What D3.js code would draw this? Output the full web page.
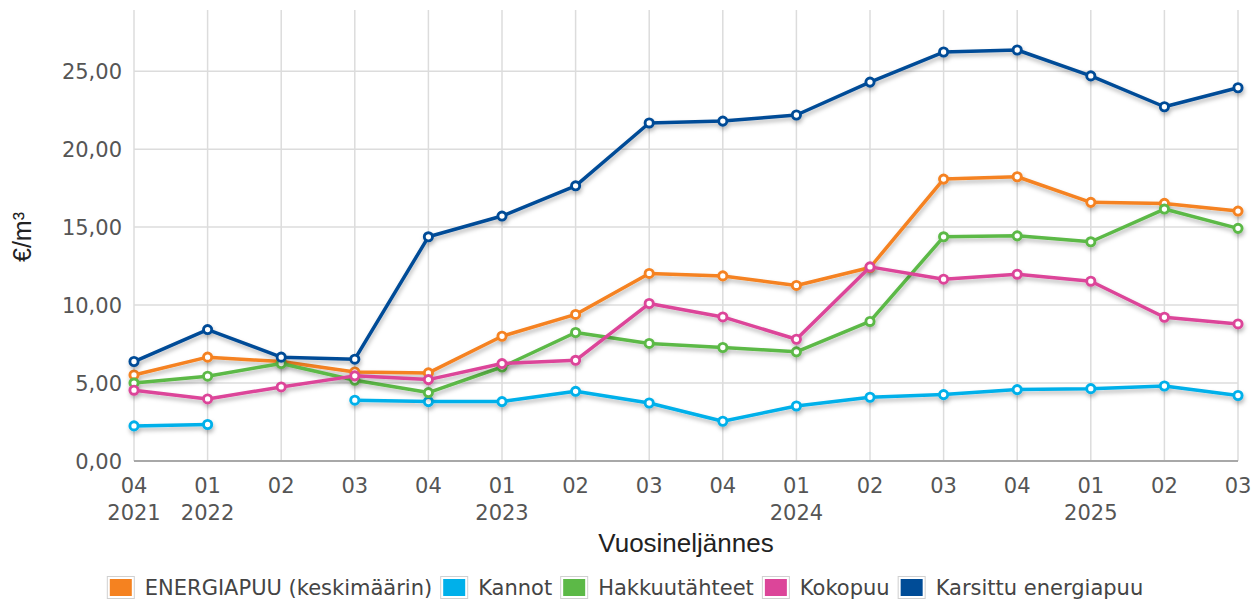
<!DOCTYPE html>
<html><head><meta charset="utf-8">
<script src="https://cdn.jsdelivr.net/npm/d3@7"></script>
<style>
html,body{margin:0;padding:0;background:#fff;}
svg{display:block;}
</style></head>
<body>
<svg id="chart" width="1260" height="600"></svg>
<script>
const quarters = ["04","01","02","03","04","01","02","03","04","01","02","03","04","01","02","03"];
const years    = ["2021","2022","","","","2023","","","","2024","","","","2025","",""];
const categories = quarters.map((q,i)=>i+"");

const seriesNames = ["ENERGIAPUU (keskimäärin)","Kannot","Hakkuutähteet","Kokopuu","Karsittu energiapuu"];
const seriesColors = ["#f58220","#00b0ea","#5cb947","#dc4599","#004c97"];

const energiapuu = [5.52,6.66,6.38,5.71,5.65,8.0,9.4,12.03,11.87,11.26,12.41,18.08,18.23,16.59,16.52,16.03];
const kannot     = [2.25,2.34,null,3.9,3.81,3.81,4.47,3.72,2.55,3.53,4.09,4.26,4.58,4.64,4.81,4.2];
const hakkuu     = [5.0,5.44,6.25,5.18,4.39,6.03,8.24,7.54,7.28,7.0,8.95,14.38,14.44,14.06,16.16,14.92];
const kokopuu    = [4.54,3.98,4.75,5.46,5.22,6.25,6.46,10.1,9.24,7.81,12.45,11.66,11.98,11.53,9.22,8.79];
const karsittu   = [6.38,8.43,6.66,6.53,14.38,15.71,17.65,21.68,21.8,22.19,24.3,26.23,26.36,24.7,22.72,23.94];

const seriesValues = [energiapuu,kannot,hakkuu,kokopuu,karsittu];
const yTicks = [0,5,10,15,20,25];

const svg = d3.select("#chart");
const pL=134, pR=1238, pT=10, pB=461;

const x = d3.scalePoint().domain(categories).range([pL,pR]);
const y = d3.scaleLinear().domain([0,25]).range([pB,71.2]);

const defs = svg.append("defs");
const f = defs.append("filter").attr("id","sh").attr("x","-10%").attr("y","-10%").attr("width","120%").attr("height","130%");
f.append("feDropShadow").attr("dx",1).attr("dy",3).attr("stdDeviation",2)
 .attr("flood-color","#000").attr("flood-opacity",0.28);

// gridlines
const g = svg.append("g");
g.selectAll(".vg").data(categories).join("line")
 .attr("x1",d=>x(d)).attr("x2",d=>x(d)).attr("y1",pT).attr("y2",pB)
 .attr("stroke","#dcdcdc").attr("stroke-width",1.5);
g.selectAll(".hg").data(yTicks.filter(t=>t>0)).join("line")
 .attr("x1",pL).attr("x2",pR).attr("y1",d=>y(d)).attr("y2",d=>y(d))
 .attr("stroke","#dcdcdc").attr("stroke-width",1.5);
// x axis line
svg.append("line").attr("x1",pL).attr("x2",pR).attr("y1",y(0)).attr("y2",y(0))
 .attr("stroke","#a8a8a8").attr("stroke-width",2);

// y tick labels
const fmt = d3.format(".2f");
svg.append("g").selectAll("text").data(yTicks).join("text")
 .attr("x",122).attr("y",d=>y(d)).attr("dy","0.36em")
 .attr("text-anchor","end").attr("font-family","DejaVu Sans").attr("font-size",21)
 .attr("fill","#555").text(d=>fmt(d).replace(".",","));

// x tick labels
const xt = svg.append("g");
xt.selectAll(".q").data(categories).join("text")
 .attr("x",d=>x(d)).attr("y",493).attr("text-anchor","middle")
 .attr("font-family","DejaVu Sans").attr("font-size",21).attr("fill","#555")
 .text((d,i)=>quarters[i]);
xt.selectAll(".yr").data(categories).join("text")
 .attr("x",d=>x(d)).attr("y",520).attr("text-anchor","middle")
 .attr("font-family","DejaVu Sans").attr("font-size",21).attr("fill","#555")
 .text((d,i)=>years[i]);

// axis titles
svg.append("text").attr("x",686).attr("y",552).attr("text-anchor","middle")
 .attr("font-family","Liberation Sans").attr("font-size",26).attr("fill","#222")
 .text("Vuosineljännes");
svg.append("text").attr("transform","translate(31,237) rotate(-90)")
 .attr("text-anchor","middle")
 .attr("font-family","Liberation Sans").attr("font-size",25).attr("fill","#222")
 .text("€/m³");

// series
const line = d3.line().defined(d=>d.v!=null).x(d=>x(d.c)).y(d=>y(d.v));
const plot = svg.append("g");
seriesValues.forEach((vals,si)=>{
  const data = vals.map((v,i)=>({c:categories[i],v:v}));
  const sg = plot.append("g").attr("filter","url(#sh)");
  sg.append("path").datum(data).attr("d",line).attr("fill","none")
    .attr("stroke",seriesColors[si]).attr("stroke-width",3.5)
    .attr("stroke-linejoin","round").attr("stroke-linecap","round");
  sg.selectAll("circle").data(data.filter(d=>d.v!=null)).join("circle")
    .attr("cx",d=>x(d.c)).attr("cy",d=>y(d.v)).attr("r",4.1)
    .attr("fill","#fff").attr("stroke",seriesColors[si]).attr("stroke-width",2.9);
});

// legend
const lg = svg.append("g");
let lx = 0;
seriesNames.forEach((n,i)=>{
  const it = lg.append("g");
  it.append("rect").attr("x",lx+0.5).attr("y",576.5).attr("width",27).attr("height",22)
    .attr("fill","#fff").attr("stroke","#d0d0d0").attr("stroke-width",1);
  it.append("rect").attr("x",lx+3).attr("y",579).attr("width",22).attr("height",17)
    .attr("fill",seriesColors[i]);
  const t = it.append("text").attr("x",lx+38).attr("y",594.5)
    .attr("font-family","DejaVu Sans").attr("font-size",21).attr("fill","#444").text(n);
  const w = t.node().getComputedTextLength();
  lx += 38 + w + 8;
});
const total = lx - 8;
lg.attr("transform",`translate(${625 - total/2},0)`);
</script>
</body></html>
